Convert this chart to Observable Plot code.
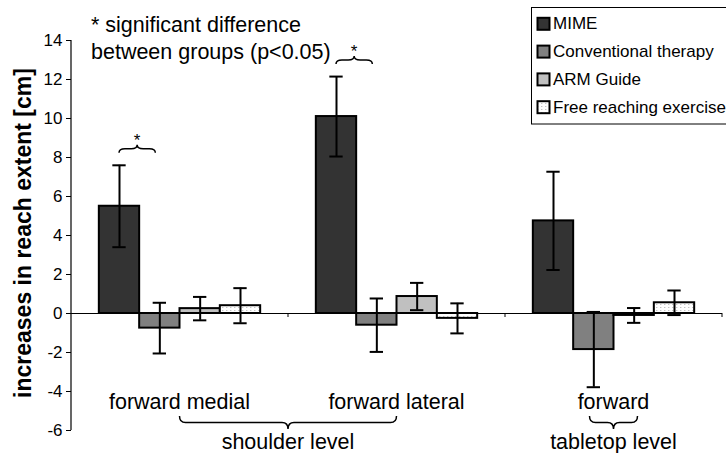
<!DOCTYPE html>
<html><head><meta charset="utf-8">
<script src="https://cdn.jsdelivr.net/npm/d3@7"></script>
<script src="https://cdn.jsdelivr.net/npm/@observablehq/plot@0.6"></script>
<style>
html,body{margin:0;padding:0;background:#fff;}
#chart svg{display:block;overflow:hidden;}
</style></head>
<body><div id="chart"></div>
<script>
// ---- data ----
const categories = ["forward medial", "forward lateral", "forward"];
const levels = ["shoulder level", "tabletop level"];
const groups = ["MIME", "Conventional therapy", "ARM Guide", "Free reaching exercise"];
const mime = [5.5, 10.1, 4.75];
const mimeErr = [2.1, 2.05, 2.52];
const conventional = [-0.75, -0.6, -1.85];
const conventionalErr = [1.3, 1.37, 1.93];
const armGuide = [0.25, 0.87, -0.1];
const armGuideErr = [0.6, 0.7, 0.38];
const freeReaching = [0.4, -0.25, 0.55];
const freeReachingErr = [0.9, 0.77, 0.63];
const yTicks = [-6, -4, -2, 0, 2, 4, 6, 8, 10, 12, 14];
const significant = ["forward medial", "forward lateral"];
const noteLines = ["* significant difference", "between groups (p<0.05)"];
const yLabel = "increases in reach extent [cm]";

const values = [mime, conventional, armGuide, freeReaching];
const errs = [mimeErr, conventionalErr, armGuideErr, freeReachingErr];
const rows = [];
categories.forEach((c, i) => groups.forEach((g, j) => rows.push({category: c, group: g, value: values[j][i], err: errs[j][i]})));

const fills = ["#333333", "#808080", "#c0c0c0", "url(#dots)"];
const fillOf = new Map(groups.map((g, i) => [g, fills[i]]));
const FONT = "'Liberation Sans', Arial, Helvetica, sans-serif";

const plot = Plot.plot({
  width: 726, height: 453,
  marginLeft: 70, marginRight: 3, marginTop: 40, marginBottom: 23,
  style: {fontFamily: FONT, fontSize: "17px", color: "black", background: "white"},
  fx: {domain: categories, paddingInner: 0, paddingOuter: 0, axis: null},
  x: {domain: groups, paddingInner: 0, paddingOuter: 0.69, axis: null, round: false},
  y: {domain: [-6, 14], ticks: yTicks, tickSize: 5, tickPadding: 4, label: null, tickFormat: d => String(d)},
  color: {type: "identity"},
  marks: [
    Plot.ruleY([0], {stroke: "black", strokeWidth: 1.2}),
    Plot.barY(rows, {fx: "category", x: "group", y: "value", fill: d => fillOf.get(d.group), stroke: "black", strokeWidth: 2}),
    Plot.ruleX(rows, {fx: "category", x: "group", y1: d => d.value - d.err, y2: d => d.value + d.err, stroke: "black", strokeWidth: 2}),
    Plot.tickY(rows, {fx: "category", x: "group", y: d => d.value + d.err, insetLeft: 13.5, insetRight: 13.5, stroke: "black", strokeWidth: 2}),
    Plot.tickY(rows, {fx: "category", x: "group", y: d => d.value - d.err, insetLeft: 13.5, insetRight: 13.5, stroke: "black", strokeWidth: 2})
  ]
});
document.getElementById("chart").appendChild(plot);

// ---- annotations using the plot's scales ----
const svg = d3.select(plot);
const fx = plot.scale("fx"), xs = plot.scale("x"), ys = plot.scale("y");
const fbw = fx.bandwidth, xbw = xs.bandwidth;
const left = fx.apply(categories[0]);
const xOff = Math.min(...xs.range);
const barCenter = (c, g) => fx.apply(c) + (xs.apply(g) - xOff) + xbw / 2;
const facetCenter = c => fx.apply(c) + fbw / 2;

const defs = svg.insert("defs", ":first-child");
const pat = defs.append("pattern").attr("id", "dots").attr("patternUnits", "userSpaceOnUse").attr("width", 4).attr("height", 3);
pat.append("rect").attr("width", 4).attr("height", 3).attr("fill", "white");
pat.append("rect").attr("x", 1).attr("y", 1).attr("width", 1.4).attr("height", 1).attr("fill", "#c4c4c4");

const g = svg.append("g").attr("font-family", FONT).attr("fill", "black").attr("text-anchor", "start");

// y axis line
g.append("line").attr("x1", left).attr("x2", left).attr("y1", ys.apply(14)).attr("y2", ys.apply(-6)).attr("stroke", "black").attr("stroke-width", 1.2);
// category boundary ticks
const y0 = ys.apply(0);
categories.forEach(c => {
  const xr = fx.apply(c) + fbw;
  g.append("line").attr("x1", xr).attr("x2", xr).attr("y1", y0).attr("y2", y0 + 4).attr("stroke", "black");
});

function brace(x1, x2, yEnd, a, xm) {
  // a > 0: tip up; a < 0: tip down
  xm = xm ?? (x1 + x2) / 2;
  const yf = yEnd - a, yt = yEnd - 2 * a, r = Math.min(6, (x2 - x1) / 4);
  return `M${x1},${yEnd} Q${x1},${yf} ${x1 + r},${yf} L${xm - r},${yf} Q${xm},${yf} ${xm},${yt} Q${xm},${yf} ${xm + r},${yf} L${x2 - r},${yf} Q${x2},${yf} ${x2},${yEnd}`;
}

// significance braces
significant.forEach(c => {
  const r = rows.find(d => d.category === c && d.group === groups[0]);
  const x1 = barCenter(c, groups[0]), x2 = barCenter(c, groups[1]) - 4;
  const yE = ys.apply(r.value + r.err) - 12;
  g.append("path").attr("d", brace(x1, x2, yE, 4)).attr("fill", "none").attr("stroke", "black").attr("stroke-width", 1.5);
  g.append("text").attr("x", (x1 + x2) / 2).attr("y", yE - 7).attr("text-anchor", "middle").attr("font-size", 17).text("*");
});

// note
noteLines.forEach((t, i) => g.append("text").attr("x", 91).attr("y", 32 + i * 27).attr("font-size", 21.5).text(t));

// category labels
categories.forEach(c => g.append("text").attr("x", facetCenter(c)).attr("y", 409).attr("text-anchor", "middle").attr("font-size", 21.5).text(c));

// level braces + labels
const sx1 = facetCenter(categories[0]), sx2 = facetCenter(categories[1]);
g.append("path").attr("d", brace(sx1, sx2, 416, -6.5, fx.apply(categories[1]))).attr("fill", "none").attr("stroke", "black").attr("stroke-width", 1.5);
g.append("text").attr("x", fx.apply(categories[1])).attr("y", 449).attr("text-anchor", "middle").attr("font-size", 21.5).text(levels[0]);
const tc = facetCenter(categories[2]);
g.append("path").attr("d", brace(tc - 24, tc + 24, 416, -6.5)).attr("fill", "none").attr("stroke", "black").attr("stroke-width", 1.5);
g.append("text").attr("x", tc).attr("y", 449).attr("text-anchor", "middle").attr("font-size", 21.5).text(levels[1]);

// y label
g.append("text").attr("transform", `translate(31,${ys.apply(4.1)}) rotate(-90)`).attr("text-anchor", "middle")
  .attr("font-size", 23).attr("font-weight", "bold").text(yLabel);

// legend
const lg = g.append("g");
lg.append("rect").attr("x", 531.5).attr("y", 7.5).attr("width", 300).attr("height", 116.5).attr("fill", "white").attr("stroke", "black").attr("stroke-width", 1);
groups.forEach((grp, i) => {
  const by = 29.3 + i * 27.8;
  lg.append("rect").attr("x", 537.5).attr("y", by - 11.5).attr("width", 12).attr("height", 12).attr("fill", fillOf.get(grp)).attr("stroke", "black").attr("stroke-width", 2);
  lg.append("text").attr("x", 553).attr("y", by).attr("text-anchor", "start").attr("font-size", 17).text(grp);
});
</script>
</body></html>
